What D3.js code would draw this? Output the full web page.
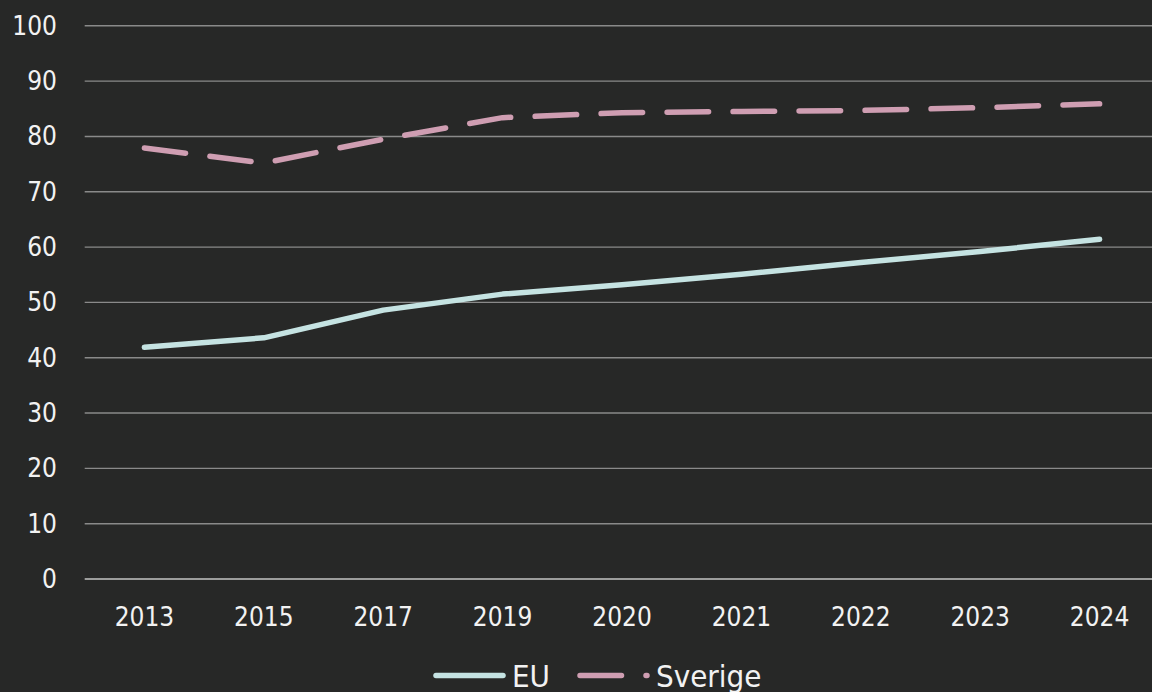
<!DOCTYPE html>
<html>
<head>
<meta charset="utf-8">
<script src="https://cdn.jsdelivr.net/npm/d3@7/dist/d3.min.js"></script>
<style>
  html, body { margin: 0; padding: 0; background: #272827; }
  svg { display: block; }
  text { font-family: "DejaVu Sans Condensed", "DejaVu Sans", sans-serif; fill: #f2f2f2; }
</style>
</head>
<body>
<svg id="chart" width="1152" height="692"></svg>
<script>
const years = ["2013", "2015", "2017", "2019", "2020", "2021", "2022", "2023", "2024"];
const euValues = [41.9, 43.6, 48.6, 51.5, 53.2, 55.1, 57.2, 59.2, 61.4];
const sverigeValues = [77.9, 75.2, 79.5, 83.4, 84.3, 84.5, 84.7, 85.2, 85.9];
const yTicks = [0, 10, 20, 30, 40, 50, 60, 70, 80, 90, 100];
const seriesNames = ["EU", "Sverige"];

const svg = d3.select("#chart");
const W = 1152, H = 692;
svg.append("rect").attr("width", W).attr("height", H).attr("fill", "#272827");

const left = 84.7, step = 119.4;
const x = d3.scaleBand().domain(years).range([left, left + step * years.length]).padding(0);
const y = d3.scaleLinear().domain([0, 100]).range([579, 25.8]);

// gridlines
svg.append("g").selectAll("line").data(yTicks).join("line")
  .attr("x1", left).attr("x2", W)
  .attr("y1", d => y(d)).attr("y2", d => y(d))
  .attr("stroke", d => d === 0 ? "#c4c4c4" : "#8a8a8a")
  .attr("stroke-width", 1.4);

// y axis labels
const yAxis = d3.axisLeft(y).tickValues(yTicks).tickSize(0).tickPadding(0);
const gy = svg.append("g").attr("transform", "translate(57,0)").call(yAxis);
gy.select(".domain").remove();
gy.selectAll("text").attr("font-size", 26).attr("fill", "#f2f2f2")
  .style("font-family", "\"DejaVu Sans Condensed\", \"DejaVu Sans\", sans-serif");

// x axis labels
const xAxis = d3.axisBottom(x).tickSize(0).tickPadding(0);
const gx = svg.append("g").attr("transform", "translate(0,579)").call(xAxis);
gx.select(".domain").remove();
gx.selectAll("text").attr("font-size", 26).attr("fill", "#f2f2f2").attr("dy", null).attr("y", 47)
  .style("font-family", "\"DejaVu Sans Condensed\", \"DejaVu Sans\", sans-serif");

const cx = d => x(d) + x.bandwidth() / 2;
const line = d3.line().x((d, i) => cx(years[i])).y(d => y(d));

svg.append("path").datum(euValues)
  .attr("d", line).attr("fill", "none")
  .attr("stroke", "#c5e3e2").attr("stroke-width", 5.5)
  .attr("stroke-linecap", "round").attr("stroke-linejoin", "round");

svg.append("path").datum(sverigeValues)
  .attr("d", line).attr("fill", "none")
  .attr("stroke", "#cf9eb2").attr("stroke-width", 5.5)
  .attr("stroke-linecap", "round").attr("stroke-linejoin", "round")
  .attr("stroke-dasharray", "41.5,24.5");

// legend
const legendY = 675.5;
const leg = [
  { name: seriesNames[0], x0: 436, color: "#c5e3e2", dash: null },
  { name: seriesNames[1], x0: 580, color: "#cf9eb2", dash: "41.5,24.5" }
];
leg.forEach(l => {
  const ln = svg.append("line").attr("x1", l.x0).attr("x2", l.x0 + 67)
    .attr("y1", legendY).attr("y2", legendY)
    .attr("stroke", l.color).attr("stroke-width", 5.5).attr("stroke-linecap", "round");
  if (l.dash) ln.attr("stroke-dasharray", l.dash);
  svg.append("text").attr("x", l.x0 + 76).attr("y", 686.5)
    .attr("font-size", 31).text(l.name);
});
</script>
</body>
</html>
